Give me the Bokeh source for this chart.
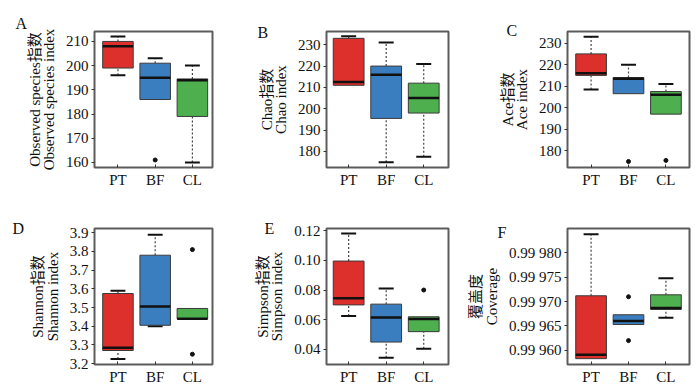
from bokeh.plotting import figure
from bokeh.models import Range1d, FixedTicker, ColumnDataSource
from bokeh.layouts import row, column
from bokeh.embed import file_html
from bokeh.resources import INLINE

# ---------------- data ----------------
groups = ["PT", "BF", "CL"]
positions = [1, 2, 3]
box_colors = ["#dd2f2c", "#3b7ec0", "#4daf4e"]

# A  Observed species
obs_low = [196, 186, 160]
obs_q1 = [199, 186, 179]
obs_med = [208, 195, 194]
obs_q3 = [210, 201, 194.5]
obs_high = [212, 203, 200]
obs_out_group = ["BF"]
obs_out_value = [161]
obs_ticks = [160, 170, 180, 190, 200, 210]
obs_tick_labels = ["160", "170", "180", "190", "200", "210"]

# B  Chao
chao_low = [211, 175, 177.5]
chao_q1 = [211, 195.5, 198]
chao_med = [212.5, 216, 205]
chao_q3 = [233, 220, 212]
chao_high = [234, 231, 221]
chao_out_group = []
chao_out_value = []
chao_ticks = [180, 190, 200, 210, 220, 230]
chao_tick_labels = ["180", "190", "200", "210", "220", "230"]

# C  Ace
ace_low = [208.5, 206.5, 197]
ace_q1 = [215, 206.5, 197]
ace_med = [216, 213.5, 206]
ace_q3 = [225, 214, 207.5]
ace_high = [233, 220, 211]
ace_out_group = ["BF", "CL"]
ace_out_value = [175, 175.5]
ace_ticks = [180, 190, 200, 210, 220, 230]
ace_tick_labels = ["180", "190", "200", "210", "220", "230"]

# D  Shannon
sha_low = [3.225, 3.40, 3.44]
sha_q1 = [3.27, 3.405, 3.44]
sha_med = [3.285, 3.505, 3.44]
sha_q3 = [3.575, 3.78, 3.495]
sha_high = [3.59, 3.89, 3.495]
sha_out_group = ["CL", "CL"]
sha_out_value = [3.81, 3.25]
sha_ticks = [3.2, 3.3, 3.4, 3.5, 3.6, 3.7, 3.8, 3.9]
sha_tick_labels = ["3.2", "3.3", "3.4", "3.5", "3.6", "3.7", "3.8", "3.9"]

# E  Simpson
sim_low = [0.0625, 0.0345, 0.0405]
sim_q1 = [0.070, 0.045, 0.052]
sim_med = [0.0745, 0.0615, 0.0605]
sim_q3 = [0.0995, 0.0705, 0.062]
sim_high = [0.118, 0.081, 0.062]
sim_out_group = ["CL"]
sim_out_value = [0.080]
sim_ticks = [0.04, 0.06, 0.08, 0.10, 0.12]
sim_tick_labels = ["0.04", "0.06", "0.08", "0.10", "0.12"]

# F  Coverage
cov_low = [0.999583, 0.999653, 0.999667]
cov_q1 = [0.999583, 0.999653, 0.999684]
cov_med = [0.999591, 0.999660, 0.999687]
cov_q3 = [0.999712, 0.999673, 0.999714]
cov_high = [0.999838, 0.999673, 0.999748]
cov_out_group = ["BF", "BF"]
cov_out_value = [0.99971, 0.99962]
cov_ticks = [0.99960, 0.99965, 0.99970, 0.99975, 0.99980]
cov_tick_labels = ["0.99 960", "0.99 965", "0.99 970", "0.99 975", "0.99 980"]

# ---------------- style ----------------
SERIF = "Liberation Serif, Noto Sans CJK SC"
BOX_W = 0.82
CAP_HALF = 0.2


def panel(letter, letter_pos, ylabel, low, q1, med, q3, high, out_g, out_v,
          yr, ticks, tick_labels, xr, size, borders, lh=0.9):
    l, r, t, b = borders
    w, h = size
    p = figure(width=w, height=h, x_range=Range1d(*xr), y_range=Range1d(*yr),
               output_backend="svg", toolbar_location=None,
               min_border_left=l, min_border_right=r,
               min_border_top=t, min_border_bottom=b)
    p.xgrid.visible = False
    p.ygrid.visible = False
    p.outline_line_color = "#5c5c5c"
    p.outline_line_width = 2
    p.background_fill_color = "white"
    p.border_fill_color = "white"

    half = BOX_W / 2
    src = ColumnDataSource(dict(
        x=positions, low=low, q1=q1, med=med, q3=q3, high=high,
        color=box_colors,
        xl=[x - half for x in positions], xr=[x + half for x in positions],
    ))
    # dotted whiskers
    p.segment(x0="x", y0="low", x1="x", y1="q1", source=src,
              line_color="#444444", line_width=1.2, line_dash="2 2")
    p.segment(x0="x", y0="q3", x1="x", y1="high", source=src,
              line_color="#444444", line_width=1.2, line_dash="2 2")
    # caps
    cx0, cx1, cy = [], [], []
    for x, lo, a, c, hi in zip(positions, low, q1, q3, high):
        if lo < a:
            cx0.append(x - CAP_HALF); cx1.append(x + CAP_HALF); cy.append(lo)
        if hi > c:
            cx0.append(x - CAP_HALF); cx1.append(x + CAP_HALF); cy.append(hi)
    p.segment(x0=cx0, y0=cy, x1=cx1, y1=cy, line_color="#111111", line_width=2)
    # boxes
    p.vbar(x="x", width=BOX_W, bottom="q1", top="q3", source=src,
           fill_color="color", line_color="#3a3a3a", line_width=1)
    # medians
    p.segment(x0="xl", y0="med", x1="xr", y1="med", source=src,
              line_color="#111111", line_width=2.5)
    # outliers
    if out_g:
        ox = [positions[groups.index(g)] for g in out_g]
        p.scatter(ox, out_v, size=4, color="#111111")

    # axes
    xa = p.xaxis[0]
    xa.ticker = FixedTicker(ticks=positions)
    xa.major_label_overrides = {pos: g for pos, g in zip(positions, groups)}
    xa.major_tick_in = 3
    xa.major_tick_out = 0
    xa.minor_tick_line_color = None
    xa.axis_line_color = None
    xa.major_tick_line_color = "#333333"
    xa.major_label_standoff = 4
    xa.major_label_text_font = SERIF
    xa.major_label_text_font_size = "15px"
    xa.major_label_text_color = "#111111"

    ya = p.yaxis[0]
    ya.ticker = FixedTicker(ticks=ticks)
    ya.major_label_overrides = {tk: lb for tk, lb in zip(ticks, tick_labels)}
    ya.major_tick_in = 0
    ya.major_tick_out = 3
    ya.minor_tick_line_color = None
    ya.axis_line_color = None
    ya.major_tick_line_color = "#333333"
    ya.major_label_standoff = 3
    ya.major_label_text_font = SERIF
    ya.major_label_text_font_size = "15px"
    ya.major_label_text_color = "#111111"
    ya.axis_label = ylabel
    ya.axis_label_text_font = SERIF
    ya.axis_label_text_font_size = "15px"
    ya.axis_label_text_font_style = "normal"
    ya.axis_label_text_color = "#111111"
    ya.axis_label_text_line_height = lh
    ya.axis_label_standoff = 6

    # panel letter as a left-aligned title
    off, stand = letter_pos
    p.title.text = letter
    p.title.align = "left"
    p.title.offset = off
    p.title.standoff = stand
    p.title.text_font = SERIF
    p.title.text_font_size = "16px"
    p.title.text_font_style = "normal"
    p.title.text_color = "#111111"
    return p


COL1 = dict(xr=(0.37, 3.54), w=232, l=94, r=20)
COL2 = dict(xr=(0.41, 3.66), w=230, l=94, r=14)
COL3 = dict(xr=(0.37, 3.63), w=230, l=105, r=3)
ROW1 = dict(h=198, t=31, b=31)
ROW2 = dict(h=190, t=30, b=24)


def mk(letter, lpos, ylabel, data, yr, ticks, tlabels, col, rw, lh=0.9):
    return panel(letter, lpos, ylabel, *data, yr, ticks, tlabels, col["xr"],
                 (col["w"], rw["h"]), (col["l"], col["r"], rw["t"], rw["b"]), lh)


pA = mk("A", (-79, 0), "Observed species指数\nObserved species index",
        (obs_low, obs_q1, obs_med, obs_q3, obs_high, obs_out_group, obs_out_value),
        (157.9, 214.1), obs_ticks, obs_tick_labels, COL1, ROW1)
pB = mk("B", (-69, -18), "Chao指数\nChao index",
        (chao_low, chao_q1, chao_med, chao_q3, chao_high, chao_out_group, chao_out_value),
        (172.5, 236.2), chao_ticks, chao_tick_labels, COL2, ROW1)
pC = mk("C", (-61, -15), "Ace指数\nAce index",
        (ace_low, ace_q1, ace_med, ace_q3, ace_high, ace_out_group, ace_out_value),
        (172.2, 235.4), ace_ticks, ace_tick_labels, COL3, ROW1)
pD = mk("D", (-82, -16), "Shannon指数\nShannon index",
        (sha_low, sha_q1, sha_med, sha_q3, sha_high, sha_out_group, sha_out_value),
        (3.195, 3.923), sha_ticks, sha_tick_labels, COL1, ROW2)
pE = mk("E", (-62, -16), "Simpson指数\nSimpson index",
        (sim_low, sim_q1, sim_med, sim_q3, sim_high, sim_out_group, sim_out_value),
        (0.0299, 0.1214), sim_ticks, sim_tick_labels, COL2, ROW2)
pF = mk("F", (-70, -24), "覆盖度\nCoverage",
        (cov_low, cov_q1, cov_med, cov_q3, cov_high, cov_out_group, cov_out_value),
        (0.999571, 0.99985), cov_ticks, cov_tick_labels, COL3, ROW2, lh=1.0)

p = column(row(pA, pB, pC), row(pD, pE, pF))

open("out.html", "w").write(file_html(p, INLINE))
